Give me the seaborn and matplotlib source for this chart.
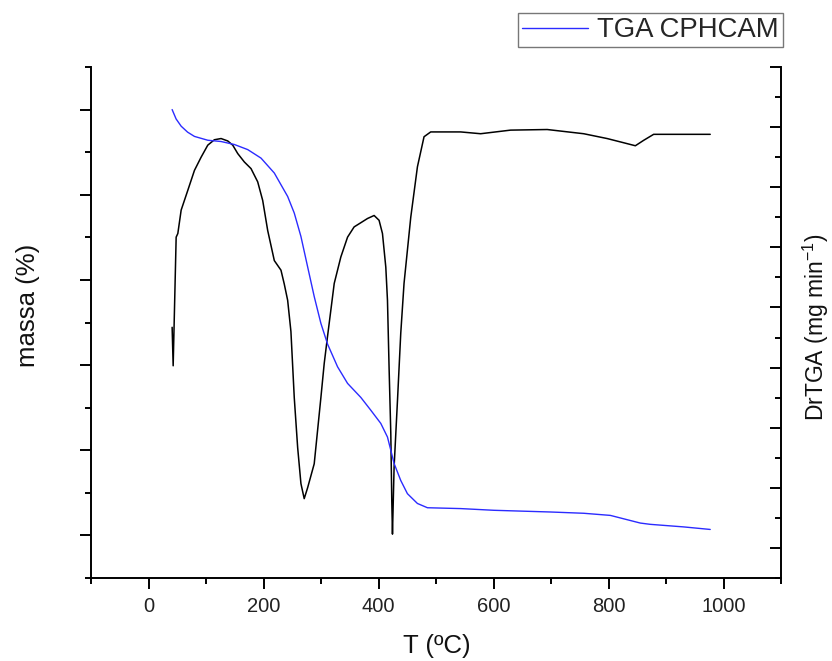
import numpy as np
import pandas as pd
import matplotlib
matplotlib.use("Agg")
import matplotlib.pyplot as plt
from matplotlib.ticker import MultipleLocator, NullFormatter
import seaborn as sns

# ---- data ----
tga_T = [41.1, 48.0, 56.8, 68.0, 79.9, 103.1, 126.2, 149.3, 172.6, 195.7, 218.8, 242.0, 253.5,
         265.1, 276.7, 288.2, 299.8, 311.5, 328.8, 346.2, 369.3, 386.6, 404.0, 415.6,
         421.4, 427.1, 438.7, 450.3, 467.7, 485.1, 542.9, 600.7, 699.1, 756.9, 803.3,
         826.4, 855.4, 872.7, 930.6, 976.9]
tga_mass = [100.0, 97.8, 96.1, 94.7, 93.7, 92.8, 92.5, 91.8, 90.6, 88.6, 85.1, 79.6, 75.7,
            70.2, 63.1, 56.1, 49.8, 44.9, 39.6, 35.7, 32.4, 29.4, 26.3, 23.1,
            20.0, 16.9, 12.9, 9.8, 7.5, 6.5, 6.3, 5.9, 5.5, 5.2, 4.7,
            3.9, 2.9, 2.6, 2.0, 1.4]

dtg_T = [41.1, 42.9, 48.1, 51.0, 56.8, 68.4, 79.9, 91.5, 103.1, 114.6, 126.2, 137.8,
         146.5, 155.2, 166.7, 178.3, 189.9, 198.6, 207.3, 218.8, 230.4, 236.1, 242.0,
         247.7, 253.5, 259.4, 265.1, 270.8, 276.7, 288.2, 299.8, 305.6, 311.5, 323.0,
         334.5, 346.2, 357.6, 369.3, 380.9, 392.4, 401.0, 406.9, 412.7, 415.6, 418.4,
         421.4, 423.1, 424.3, 427.1, 433.0, 438.7, 444.4, 456.1, 467.7, 479.2, 490.8,
         542.9, 577.6, 629.7, 693.4, 756.9, 797.6, 826.4, 846.7, 861.1, 878.5, 976.9]
dtg_val = [-3.33, -3.97, -1.83, -1.77, -1.38, -1.05, -0.72, -0.50, -0.30, -0.21, -0.19, -0.23,
           -0.30, -0.44, -0.58, -0.69, -0.91, -1.22, -1.72, -2.22, -2.38, -2.61, -2.88,
           -3.40, -4.50, -5.33, -5.93, -6.18, -6.00, -5.60, -4.50, -3.93, -3.47, -2.60,
           -2.16, -1.83, -1.66, -1.59, -1.52, -1.47, -1.55, -1.77, -2.33, -2.88, -4.00,
           -5.10, -6.22, -6.77, -5.66, -4.55, -3.43, -2.60, -1.50, -0.66, -0.16, -0.08,
           -0.08, -0.11, -0.05, -0.04, -0.11, -0.19, -0.26, -0.31, -0.22, -0.12, -0.12]

legend_label = "TGA CPHCAM"
xlabel = "T (ºC)"
ylabel_left = "massa (%)"
ylabel_right = "DrTGA (mg min$^{-1}$)"

# ---- plotting ----
sns.set_theme(style="ticks")
plt.rcParams['font.family'] = ['Liberation Sans', 'DejaVu Sans']
plt.rcParams['mathtext.fontset'] = 'custom'
plt.rcParams['mathtext.rm'] = 'Liberation Sans'

fig = plt.figure(figsize=(8.32, 6.61), dpi=100)
ax = fig.add_axes([91/832, 1 - 578/661, (781 - 91)/832, (578 - 67)/661])
ax2 = ax.twinx()

df_tga = pd.DataFrame({"T": tga_T, "m": tga_mass})
df_dtg = pd.DataFrame({"T": dtg_T, "d": dtg_val})

sns.lineplot(data=df_dtg, x="T", y="d", ax=ax2, color="black", lw=1.1,
             sort=False, estimator=None)
sns.lineplot(data=df_tga, x="T", y="m", ax=ax, color="#2b2bff", lw=1.0,
             sort=False, estimator=None, label=legend_label)
ax.set_zorder(ax2.get_zorder() + 1)
ax.patch.set_visible(False)

ax.set_xlim(-100, 1100)
ax.set_ylim(-10, 110)
ax2.set_ylim(-7.5, 1.0)

ax.xaxis.set_major_locator(MultipleLocator(200))
ax.xaxis.set_minor_locator(MultipleLocator(100))
ax.yaxis.set_major_locator(MultipleLocator(20))
ax.yaxis.set_minor_locator(MultipleLocator(10))
ax.yaxis.set_major_formatter(NullFormatter())
ax2.yaxis.set_major_locator(MultipleLocator(1))
ax2.yaxis.set_minor_locator(MultipleLocator(0.5))
ax2.yaxis.set_major_formatter(NullFormatter())

for a in (ax, ax2):
    a.spines['top'].set_visible(False)
    for s in a.spines.values():
        s.set_linewidth(1.4)
        s.set_color("black")
ax.spines['right'].set_visible(False)
ax2.spines['left'].set_visible(False)
ax2.spines['bottom'].set_visible(False)

ax.tick_params(axis='both', which='major', length=8, width=1.4, color='black',
               labelsize=14.5, labelcolor='#222222', direction='out', pad=6)
ax.tick_params(axis='both', which='minor', length=4.5, width=1.4, color='black',
               direction='out')
ax2.tick_params(axis='y', which='major', length=8, width=1.4, color='black', direction='in')
ax2.tick_params(axis='y', which='minor', length=4.5, width=1.4, color='black', direction='in')

ax.set_xlabel(xlabel, fontsize=18.5, color='#111111', va='center')
ax.xaxis.set_label_coords(0.501, -0.133)
ax.set_ylabel(ylabel_left, fontsize=18.5, color='#111111', va='center')
ax.yaxis.set_label_coords(-0.091, 0.534)
ax2.set_ylabel(ylabel_right, fontsize=16.5, color='#111111', va='center', rotation=90)
ax2.yaxis.set_label_coords(1.0507, 0.49)
ax.grid(False); ax2.grid(False)

leg = ax.legend(loc='upper right', bbox_to_anchor=(783/832, 1 - 13/661),
                bbox_transform=fig.transFigure, fontsize=19.8, frameon=True,
                fancybox=False, handlelength=2.4, borderpad=0.15,
                handletextpad=0.35, borderaxespad=0)
leg.get_frame().set_edgecolor("#555555")
leg.get_frame().set_linewidth(1.0)

fig.savefig("out.png", dpi=100)
